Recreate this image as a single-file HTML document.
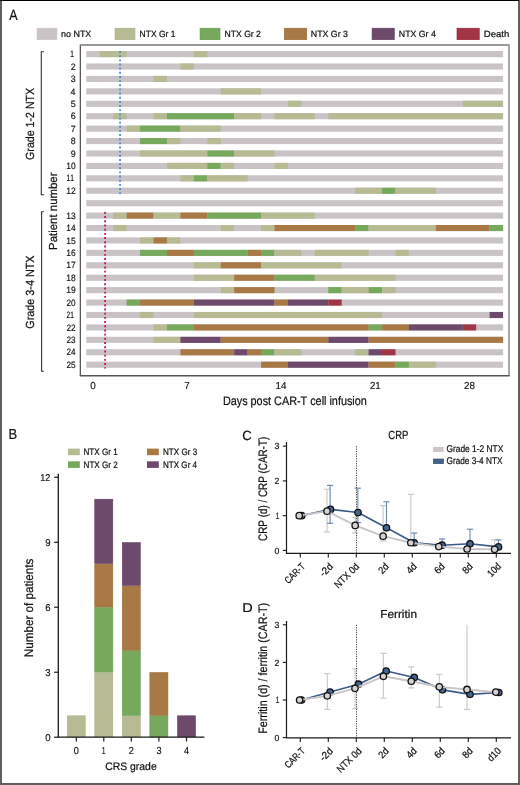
<!DOCTYPE html><html><head><meta charset="utf-8"><style>html,body{margin:0;padding:0;background:#fff;}svg{display:block;will-change:transform;}text{font-family:"Liberation Sans",sans-serif;font-kerning:none;fill:#111;stroke:#111;stroke-width:0.22px;} text.t{stroke-width:0.16px;}</style></head><body>
<svg width="520" height="785" viewBox="0 0 520 785" text-rendering="geometricPrecision">
<rect x="0" y="0" width="520" height="785" fill="#ffffff"/>
<text x="9.18" y="20.20" font-size="14.83" textLength="8.35" lengthAdjust="spacingAndGlyphs" fill="#1a1a1a">A</text>
<rect x="37.06" y="28.2" width="19.84" height="11.5" fill="#c9c3c6" stroke="#c9c3c6" stroke-width="0.6"/>
<text x="61.11" y="37.00" font-size="9.01" textLength="30.18" lengthAdjust="spacingAndGlyphs" fill="#1a1a1a">no NTX</text>
<rect x="115.06" y="28.2" width="19.94" height="11.5" fill="#b7bb93" stroke="#aab086" stroke-width="0.6"/>
<text x="139.60" y="37.00" font-size="9.01" textLength="35.81" lengthAdjust="spacingAndGlyphs" fill="#1a1a1a">NTX Gr 1</text>
<rect x="200.06" y="28.2" width="19.94" height="11.5" fill="#77a95d" stroke="#62994a" stroke-width="0.6"/>
<text x="224.59" y="37.00" font-size="9.01" textLength="36.34" lengthAdjust="spacingAndGlyphs" fill="#1a1a1a">NTX Gr 2</text>
<rect x="284.25" y="28.2" width="22.50" height="11.5" fill="#a87945" stroke="#9a6b38" stroke-width="0.6"/>
<text x="310.83" y="37.00" font-size="9.01" textLength="37.06" lengthAdjust="spacingAndGlyphs" fill="#1a1a1a">NTX Gr 3</text>
<rect x="372.1" y="28.2" width="22.15" height="11.5" fill="#6d4a6b" stroke="#5e3b5c" stroke-width="0.6"/>
<text x="398.83" y="37.00" font-size="9.01" textLength="36.92" lengthAdjust="spacingAndGlyphs" fill="#1a1a1a">NTX Gr 4</text>
<rect x="457.0" y="28.2" width="22.25" height="11.5" fill="#a23545" stroke="#931f35" stroke-width="0.6"/>
<text x="483.76" y="37.00" font-size="9.01" textLength="25.61" lengthAdjust="spacingAndGlyphs" fill="#1a1a1a">Death</text>
<g shape-rendering="auto">
<rect x="86.28" y="51.05" width="416.79" height="6.1" fill="#c9c3c6"/>
<rect x="86.28" y="63.47" width="416.79" height="6.1" fill="#c9c3c6"/>
<rect x="86.28" y="75.90" width="416.79" height="6.1" fill="#c9c3c6"/>
<rect x="86.28" y="88.32" width="416.79" height="6.1" fill="#c9c3c6"/>
<rect x="86.28" y="100.75" width="416.79" height="6.1" fill="#c9c3c6"/>
<rect x="86.28" y="113.17" width="416.79" height="6.1" fill="#c9c3c6"/>
<rect x="86.28" y="125.59" width="416.79" height="6.1" fill="#c9c3c6"/>
<rect x="86.28" y="138.02" width="416.79" height="6.1" fill="#c9c3c6"/>
<rect x="86.28" y="150.44" width="416.79" height="6.1" fill="#c9c3c6"/>
<rect x="86.28" y="162.87" width="416.79" height="6.1" fill="#c9c3c6"/>
<rect x="86.28" y="175.29" width="416.79" height="6.1" fill="#c9c3c6"/>
<rect x="86.28" y="187.71" width="416.79" height="6.1" fill="#c9c3c6"/>
<rect x="86.28" y="200.14" width="416.79" height="6.1" fill="#c9c3c6"/>
<rect x="86.28" y="212.56" width="416.79" height="6.1" fill="#c9c3c6"/>
<rect x="86.28" y="224.99" width="416.79" height="6.1" fill="#c9c3c6"/>
<rect x="86.28" y="237.41" width="416.79" height="6.1" fill="#c9c3c6"/>
<rect x="86.28" y="249.83" width="416.79" height="6.1" fill="#c9c3c6"/>
<rect x="86.28" y="262.26" width="416.79" height="6.1" fill="#c9c3c6"/>
<rect x="86.28" y="274.68" width="416.79" height="6.1" fill="#c9c3c6"/>
<rect x="86.28" y="287.11" width="416.79" height="6.1" fill="#c9c3c6"/>
<rect x="86.28" y="299.53" width="416.79" height="6.1" fill="#c9c3c6"/>
<rect x="86.28" y="311.95" width="416.79" height="6.1" fill="#c9c3c6"/>
<rect x="86.28" y="324.38" width="416.79" height="6.1" fill="#c9c3c6"/>
<rect x="86.28" y="336.80" width="416.79" height="6.1" fill="#c9c3c6"/>
<rect x="86.28" y="349.23" width="416.79" height="6.1" fill="#c9c3c6"/>
<rect x="86.28" y="361.65" width="416.79" height="6.1" fill="#c9c3c6"/>
<rect x="99.72" y="51.05" width="26.89" height="6.1" fill="#b7bb93"/>
<rect x="193.84" y="51.05" width="13.44" height="6.1" fill="#b7bb93"/>
<rect x="180.39" y="63.47" width="13.45" height="6.1" fill="#b7bb93"/>
<rect x="153.50" y="75.90" width="13.44" height="6.1" fill="#b7bb93"/>
<rect x="220.73" y="88.32" width="40.33" height="6.1" fill="#b7bb93"/>
<rect x="287.95" y="100.75" width="13.45" height="6.1" fill="#b7bb93"/>
<rect x="462.74" y="100.75" width="40.33" height="6.1" fill="#b7bb93"/>
<rect x="113.17" y="113.17" width="13.44" height="6.1" fill="#b7bb93"/>
<rect x="153.50" y="113.17" width="13.44" height="6.1" fill="#b7bb93"/>
<rect x="166.95" y="113.17" width="67.23" height="6.1" fill="#77a95d"/>
<rect x="234.17" y="113.17" width="26.89" height="6.1" fill="#b7bb93"/>
<rect x="274.51" y="113.17" width="40.33" height="6.1" fill="#b7bb93"/>
<rect x="328.29" y="113.17" width="174.78" height="6.1" fill="#b7bb93"/>
<rect x="126.61" y="125.59" width="13.45" height="6.1" fill="#b7bb93"/>
<rect x="140.06" y="125.59" width="40.33" height="6.1" fill="#77a95d"/>
<rect x="180.39" y="125.59" width="40.34" height="6.1" fill="#b7bb93"/>
<rect x="140.06" y="138.02" width="26.89" height="6.1" fill="#77a95d"/>
<rect x="166.95" y="138.02" width="13.44" height="6.1" fill="#b7bb93"/>
<rect x="207.28" y="138.02" width="13.45" height="6.1" fill="#b7bb93"/>
<rect x="140.06" y="150.44" width="67.22" height="6.1" fill="#b7bb93"/>
<rect x="207.28" y="150.44" width="26.89" height="6.1" fill="#77a95d"/>
<rect x="234.17" y="150.44" width="40.33" height="6.1" fill="#b7bb93"/>
<rect x="166.95" y="162.87" width="40.34" height="6.1" fill="#b7bb93"/>
<rect x="207.28" y="162.87" width="13.45" height="6.1" fill="#77a95d"/>
<rect x="220.73" y="162.87" width="13.44" height="6.1" fill="#b7bb93"/>
<rect x="274.51" y="162.87" width="13.44" height="6.1" fill="#b7bb93"/>
<rect x="180.39" y="175.29" width="13.45" height="6.1" fill="#b7bb93"/>
<rect x="193.84" y="175.29" width="13.44" height="6.1" fill="#77a95d"/>
<rect x="207.28" y="175.29" width="40.34" height="6.1" fill="#b7bb93"/>
<rect x="355.18" y="187.71" width="26.89" height="6.1" fill="#b7bb93"/>
<rect x="382.07" y="187.71" width="13.44" height="6.1" fill="#77a95d"/>
<rect x="395.51" y="187.71" width="40.34" height="6.1" fill="#b7bb93"/>
<rect x="113.17" y="212.56" width="13.44" height="6.1" fill="#b7bb93"/>
<rect x="126.61" y="212.56" width="26.89" height="6.1" fill="#a87945"/>
<rect x="153.50" y="212.56" width="26.89" height="6.1" fill="#b7bb93"/>
<rect x="180.39" y="212.56" width="26.89" height="6.1" fill="#a87945"/>
<rect x="207.28" y="212.56" width="53.78" height="6.1" fill="#77a95d"/>
<rect x="261.06" y="212.56" width="53.78" height="6.1" fill="#b7bb93"/>
<rect x="113.17" y="224.99" width="13.44" height="6.1" fill="#b7bb93"/>
<rect x="220.73" y="224.99" width="13.44" height="6.1" fill="#b7bb93"/>
<rect x="261.06" y="224.99" width="13.44" height="6.1" fill="#b7bb93"/>
<rect x="274.51" y="224.99" width="80.67" height="6.1" fill="#a87945"/>
<rect x="355.18" y="224.99" width="13.44" height="6.1" fill="#77a95d"/>
<rect x="368.62" y="224.99" width="67.23" height="6.1" fill="#b7bb93"/>
<rect x="435.85" y="224.99" width="53.78" height="6.1" fill="#a87945"/>
<rect x="489.63" y="224.99" width="13.44" height="6.1" fill="#77a95d"/>
<rect x="140.06" y="237.41" width="13.44" height="6.1" fill="#b7bb93"/>
<rect x="153.50" y="237.41" width="13.44" height="6.1" fill="#a87945"/>
<rect x="166.95" y="237.41" width="13.44" height="6.1" fill="#b7bb93"/>
<rect x="140.06" y="249.83" width="26.89" height="6.1" fill="#77a95d"/>
<rect x="166.95" y="249.83" width="26.89" height="6.1" fill="#a87945"/>
<rect x="193.84" y="249.83" width="53.78" height="6.1" fill="#77a95d"/>
<rect x="247.62" y="249.83" width="13.44" height="6.1" fill="#a87945"/>
<rect x="261.06" y="249.83" width="13.44" height="6.1" fill="#77a95d"/>
<rect x="274.51" y="249.83" width="26.89" height="6.1" fill="#b7bb93"/>
<rect x="314.84" y="249.83" width="53.78" height="6.1" fill="#b7bb93"/>
<rect x="395.51" y="249.83" width="13.44" height="6.1" fill="#b7bb93"/>
<rect x="193.84" y="262.26" width="26.89" height="6.1" fill="#b7bb93"/>
<rect x="220.73" y="262.26" width="40.33" height="6.1" fill="#a87945"/>
<rect x="261.06" y="262.26" width="80.67" height="6.1" fill="#b7bb93"/>
<rect x="193.84" y="274.68" width="40.34" height="6.1" fill="#b7bb93"/>
<rect x="234.17" y="274.68" width="40.33" height="6.1" fill="#a87945"/>
<rect x="274.51" y="274.68" width="40.33" height="6.1" fill="#77a95d"/>
<rect x="314.84" y="274.68" width="80.67" height="6.1" fill="#b7bb93"/>
<rect x="220.73" y="287.11" width="13.44" height="6.1" fill="#b7bb93"/>
<rect x="234.17" y="287.11" width="40.33" height="6.1" fill="#a87945"/>
<rect x="328.29" y="287.11" width="13.44" height="6.1" fill="#77a95d"/>
<rect x="341.73" y="287.11" width="26.89" height="6.1" fill="#b7bb93"/>
<rect x="368.62" y="287.11" width="13.44" height="6.1" fill="#77a95d"/>
<rect x="382.07" y="287.11" width="13.44" height="6.1" fill="#b7bb93"/>
<rect x="126.61" y="299.53" width="13.45" height="6.1" fill="#77a95d"/>
<rect x="140.06" y="299.53" width="53.78" height="6.1" fill="#a87945"/>
<rect x="193.84" y="299.53" width="80.67" height="6.1" fill="#6d4a6b"/>
<rect x="274.51" y="299.53" width="13.44" height="6.1" fill="#a87945"/>
<rect x="287.95" y="299.53" width="40.34" height="6.1" fill="#6d4a6b"/>
<rect x="328.29" y="299.53" width="13.44" height="6.1" fill="#a23545"/>
<rect x="140.06" y="311.95" width="13.44" height="6.1" fill="#b7bb93"/>
<rect x="193.84" y="311.95" width="188.23" height="6.1" fill="#b7bb93"/>
<rect x="489.63" y="311.95" width="13.44" height="6.1" fill="#6d4a6b"/>
<rect x="153.50" y="324.38" width="13.44" height="6.1" fill="#b7bb93"/>
<rect x="166.95" y="324.38" width="26.89" height="6.1" fill="#77a95d"/>
<rect x="193.84" y="324.38" width="174.78" height="6.1" fill="#a87945"/>
<rect x="368.62" y="324.38" width="13.44" height="6.1" fill="#77a95d"/>
<rect x="382.07" y="324.38" width="26.89" height="6.1" fill="#a87945"/>
<rect x="408.96" y="324.38" width="53.78" height="6.1" fill="#6d4a6b"/>
<rect x="462.74" y="324.38" width="13.44" height="6.1" fill="#a23545"/>
<rect x="153.50" y="336.80" width="26.89" height="6.1" fill="#b7bb93"/>
<rect x="180.39" y="336.80" width="40.34" height="6.1" fill="#6d4a6b"/>
<rect x="220.73" y="336.80" width="107.56" height="6.1" fill="#a87945"/>
<rect x="328.29" y="336.80" width="40.33" height="6.1" fill="#6d4a6b"/>
<rect x="368.62" y="336.80" width="134.45" height="6.1" fill="#a87945"/>
<rect x="180.39" y="349.23" width="53.78" height="6.1" fill="#a87945"/>
<rect x="234.17" y="349.23" width="13.44" height="6.1" fill="#6d4a6b"/>
<rect x="247.62" y="349.23" width="13.44" height="6.1" fill="#a87945"/>
<rect x="261.06" y="349.23" width="13.44" height="6.1" fill="#77a95d"/>
<rect x="274.51" y="349.23" width="26.89" height="6.1" fill="#b7bb93"/>
<rect x="355.18" y="349.23" width="13.44" height="6.1" fill="#b7bb93"/>
<rect x="368.62" y="349.23" width="13.44" height="6.1" fill="#6d4a6b"/>
<rect x="382.07" y="349.23" width="13.44" height="6.1" fill="#a23545"/>
<rect x="261.06" y="361.65" width="26.89" height="6.1" fill="#a87945"/>
<rect x="287.95" y="361.65" width="80.67" height="6.1" fill="#6d4a6b"/>
<rect x="368.62" y="361.65" width="26.89" height="6.1" fill="#a87945"/>
<rect x="395.51" y="361.65" width="13.44" height="6.1" fill="#77a95d"/>
<rect x="408.96" y="361.65" width="26.89" height="6.1" fill="#b7bb93"/>
</g>
<line x1="120.05" y1="51.1" x2="120.05" y2="194" stroke="#4a90d9" stroke-width="1.9" stroke-dasharray="1.9 2.25"/>
<line x1="105.1" y1="211.9" x2="105.1" y2="368.5" stroke="#c8186e" stroke-width="1.9" stroke-dasharray="1.9 2.3"/>
<path d="M80.3 376.0 V45.2" fill="none" stroke="#3a3a3a" stroke-width="1.1"/>
<path d="M79.8 45.0 H509.0 V376.0" fill="none" stroke="#7a7a7a" stroke-width="1.3"/>
<line x1="79.8" y1="375.8" x2="509.5" y2="375.8" stroke="#555" stroke-width="1.6"/>
<text class="t" x="70.26" y="57.25" font-size="9.16" textLength="3.67" lengthAdjust="spacingAndGlyphs" fill="#1a1a1a">1</text>
<text class="t" x="70.81" y="69.67" font-size="9.16" textLength="4.94" lengthAdjust="spacingAndGlyphs" fill="#1a1a1a">2</text>
<text class="t" x="70.75" y="82.10" font-size="9.16" textLength="4.94" lengthAdjust="spacingAndGlyphs" fill="#1a1a1a">3</text>
<text class="t" x="70.62" y="94.52" font-size="9.16" textLength="4.94" lengthAdjust="spacingAndGlyphs" fill="#1a1a1a">4</text>
<text class="t" x="70.73" y="106.95" font-size="9.16" textLength="4.94" lengthAdjust="spacingAndGlyphs" fill="#1a1a1a">5</text>
<text class="t" x="70.75" y="119.37" font-size="9.16" textLength="4.94" lengthAdjust="spacingAndGlyphs" fill="#1a1a1a">6</text>
<text class="t" x="70.81" y="131.79" font-size="9.16" textLength="4.94" lengthAdjust="spacingAndGlyphs" fill="#1a1a1a">7</text>
<text class="t" x="70.75" y="144.22" font-size="9.16" textLength="4.94" lengthAdjust="spacingAndGlyphs" fill="#1a1a1a">8</text>
<text class="t" x="70.78" y="156.64" font-size="9.16" textLength="4.94" lengthAdjust="spacingAndGlyphs" fill="#1a1a1a">9</text>
<text class="t" x="66.26" y="169.07" font-size="9.16" textLength="9.37" lengthAdjust="spacingAndGlyphs" fill="#1a1a1a">10</text>
<text class="t" x="66.38" y="181.49" font-size="9.16" textLength="7.55" lengthAdjust="spacingAndGlyphs" fill="#1a1a1a">11</text>
<text class="t" x="66.25" y="193.91" font-size="9.16" textLength="9.48" lengthAdjust="spacingAndGlyphs" fill="#1a1a1a">12</text>
<text class="t" x="66.26" y="218.76" font-size="9.16" textLength="9.42" lengthAdjust="spacingAndGlyphs" fill="#1a1a1a">13</text>
<text class="t" x="66.26" y="231.19" font-size="9.16" textLength="9.28" lengthAdjust="spacingAndGlyphs" fill="#1a1a1a">14</text>
<text class="t" x="66.26" y="243.61" font-size="9.16" textLength="9.40" lengthAdjust="spacingAndGlyphs" fill="#1a1a1a">15</text>
<text class="t" x="66.26" y="256.03" font-size="9.16" textLength="9.42" lengthAdjust="spacingAndGlyphs" fill="#1a1a1a">16</text>
<text class="t" x="66.25" y="268.46" font-size="9.16" textLength="9.48" lengthAdjust="spacingAndGlyphs" fill="#1a1a1a">17</text>
<text class="t" x="66.26" y="280.88" font-size="9.16" textLength="9.41" lengthAdjust="spacingAndGlyphs" fill="#1a1a1a">18</text>
<text class="t" x="66.25" y="293.31" font-size="9.16" textLength="9.45" lengthAdjust="spacingAndGlyphs" fill="#1a1a1a">19</text>
<text class="t" x="66.49" y="305.73" font-size="9.16" textLength="9.13" lengthAdjust="spacingAndGlyphs" fill="#1a1a1a">20</text>
<text class="t" x="66.57" y="318.15" font-size="9.16" textLength="7.36" lengthAdjust="spacingAndGlyphs" fill="#1a1a1a">21</text>
<text class="t" x="66.48" y="330.58" font-size="9.16" textLength="9.24" lengthAdjust="spacingAndGlyphs" fill="#1a1a1a">22</text>
<text class="t" x="66.49" y="343.00" font-size="9.16" textLength="9.18" lengthAdjust="spacingAndGlyphs" fill="#1a1a1a">23</text>
<text class="t" x="66.49" y="355.43" font-size="9.16" textLength="9.05" lengthAdjust="spacingAndGlyphs" fill="#1a1a1a">24</text>
<text class="t" x="66.49" y="367.85" font-size="9.16" textLength="9.16" lengthAdjust="spacingAndGlyphs" fill="#1a1a1a">25</text>
<path d="M44.1 51.8 H41.3 V194.7 H44.1" fill="none" stroke="#333" stroke-width="1.1"/>
<path d="M43.8 211.8 H41.6 V371.3 H43.8" fill="none" stroke="#333" stroke-width="1.1"/>
<text transform="translate(34.00,159.40) rotate(-90)" x="-0.54" y="0" font-size="11.77" textLength="72.16" lengthAdjust="spacingAndGlyphs" fill="#1a1a1a">Grade 1-2 NTX</text>
<text transform="translate(34.00,328.10) rotate(-90)" x="-0.54" y="0" font-size="11.77" textLength="73.07" lengthAdjust="spacingAndGlyphs" fill="#1a1a1a">Grade 3-4 NTX</text>
<text transform="translate(57.30,249.00) rotate(-90)" x="-0.94" y="0" font-size="11.63" textLength="77.43" lengthAdjust="spacingAndGlyphs" fill="#1a1a1a">Patient number</text>
<text class="t" x="90.26" y="388.80" font-size="10.17" textLength="5.49" lengthAdjust="spacingAndGlyphs" fill="#1a1a1a">0</text>
<text class="t" x="184.37" y="388.80" font-size="10.17" textLength="5.49" lengthAdjust="spacingAndGlyphs" fill="#1a1a1a">7</text>
<text class="t" x="275.57" y="388.80" font-size="10.17" textLength="10.86" lengthAdjust="spacingAndGlyphs" fill="#1a1a1a">14</text>
<text class="t" x="369.91" y="388.80" font-size="10.17" textLength="10.86" lengthAdjust="spacingAndGlyphs" fill="#1a1a1a">21</text>
<text class="t" x="463.99" y="388.80" font-size="10.17" textLength="10.86" lengthAdjust="spacingAndGlyphs" fill="#1a1a1a">28</text>
<text x="222.91" y="405.40" font-size="12.35" textLength="143.89" lengthAdjust="spacingAndGlyphs" fill="#1a1a1a">Days post CAR-T cell infusion</text>
<text x="8.54" y="439.20" font-size="14.53" textLength="8.65" lengthAdjust="spacingAndGlyphs" fill="#1a1a1a">B</text>
<rect x="68.0" y="448.6" width="11.8" height="6.6" fill="#b7bb93"/>
<text x="83.54" y="455.00" font-size="9.30" textLength="34.16" lengthAdjust="spacingAndGlyphs" fill="#1a1a1a">NTX Gr 1</text>
<rect x="68.0" y="461.3" width="11.8" height="6.6" fill="#77a95d"/>
<text x="83.54" y="467.70" font-size="9.30" textLength="34.17" lengthAdjust="spacingAndGlyphs" fill="#1a1a1a">NTX Gr 2</text>
<rect x="147.0" y="448.6" width="11.8" height="6.6" fill="#a87945"/>
<text x="163.04" y="455.00" font-size="9.30" textLength="34.12" lengthAdjust="spacingAndGlyphs" fill="#1a1a1a">NTX Gr 3</text>
<rect x="147.0" y="461.3" width="11.8" height="6.6" fill="#6d4a6b"/>
<text x="163.04" y="467.70" font-size="9.30" textLength="34.00" lengthAdjust="spacingAndGlyphs" fill="#1a1a1a">NTX Gr 4</text>
<rect x="67.25" y="715.79" width="18.1" height="21.16" fill="#b7bb93" stroke="#aab086" stroke-width="0.5"/>
<rect x="94.75" y="672.47" width="18.1" height="64.48" fill="#b7bb93" stroke="#aab086" stroke-width="0.5"/>
<rect x="94.75" y="607.49" width="18.1" height="64.48" fill="#77a95d" stroke="#62994a" stroke-width="0.5"/>
<rect x="94.75" y="564.17" width="18.1" height="42.82" fill="#a87945" stroke="#9a6b38" stroke-width="0.5"/>
<rect x="94.75" y="499.19" width="18.1" height="64.48" fill="#6d4a6b" stroke="#5e3b5c" stroke-width="0.5"/>
<rect x="122.25" y="715.79" width="18.1" height="21.16" fill="#b7bb93" stroke="#aab086" stroke-width="0.5"/>
<rect x="122.25" y="650.81" width="18.1" height="64.48" fill="#77a95d" stroke="#62994a" stroke-width="0.5"/>
<rect x="122.25" y="585.83" width="18.1" height="64.48" fill="#a87945" stroke="#9a6b38" stroke-width="0.5"/>
<rect x="122.25" y="542.51" width="18.1" height="42.82" fill="#6d4a6b" stroke="#5e3b5c" stroke-width="0.5"/>
<rect x="149.85" y="715.79" width="18.1" height="21.16" fill="#77a95d" stroke="#62994a" stroke-width="0.5"/>
<rect x="149.85" y="672.47" width="18.1" height="42.82" fill="#a87945" stroke="#9a6b38" stroke-width="0.5"/>
<rect x="177.45" y="715.79" width="18.1" height="21.16" fill="#6d4a6b" stroke="#5e3b5c" stroke-width="0.5"/>
<path d="M58.3 473.8 V737.2 H204.4" fill="none" stroke="#1a1a1a" stroke-width="1.3"/>
<line x1="54.1" y1="737.20" x2="58.3" y2="737.20" stroke="#1a1a1a" stroke-width="1.2"/>
<text class="t" x="45.24" y="740.60" font-size="9.88" textLength="5.33" lengthAdjust="spacingAndGlyphs" fill="#1a1a1a">0</text>
<line x1="54.1" y1="672.22" x2="58.3" y2="672.22" stroke="#1a1a1a" stroke-width="1.2"/>
<text class="t" x="45.29" y="675.62" font-size="9.88" textLength="5.33" lengthAdjust="spacingAndGlyphs" fill="#1a1a1a">3</text>
<line x1="54.1" y1="607.24" x2="58.3" y2="607.24" stroke="#1a1a1a" stroke-width="1.2"/>
<text class="t" x="45.29" y="610.64" font-size="9.88" textLength="5.33" lengthAdjust="spacingAndGlyphs" fill="#1a1a1a">6</text>
<line x1="54.1" y1="542.26" x2="58.3" y2="542.26" stroke="#1a1a1a" stroke-width="1.2"/>
<text class="t" x="45.32" y="545.66" font-size="9.88" textLength="5.33" lengthAdjust="spacingAndGlyphs" fill="#1a1a1a">9</text>
<line x1="54.1" y1="477.28" x2="58.3" y2="477.28" stroke="#1a1a1a" stroke-width="1.2"/>
<text class="t" x="40.30" y="480.68" font-size="9.88" textLength="10.15" lengthAdjust="spacingAndGlyphs" fill="#1a1a1a">12</text>
<line x1="76.3" y1="737.2" x2="76.3" y2="741.5" stroke="#1a1a1a" stroke-width="1.2"/>
<text class="t" x="73.75" y="753.90" font-size="10.17" textLength="5.10" lengthAdjust="spacingAndGlyphs" fill="#1a1a1a">0</text>
<line x1="103.8" y1="737.2" x2="103.8" y2="741.5" stroke="#1a1a1a" stroke-width="1.2"/>
<text class="t" x="101.82" y="753.90" font-size="10.17" textLength="3.78" lengthAdjust="spacingAndGlyphs" fill="#1a1a1a">1</text>
<line x1="131.3" y1="737.2" x2="131.3" y2="741.5" stroke="#1a1a1a" stroke-width="1.2"/>
<text class="t" x="128.75" y="753.90" font-size="10.17" textLength="5.10" lengthAdjust="spacingAndGlyphs" fill="#1a1a1a">2</text>
<line x1="158.9" y1="737.2" x2="158.9" y2="741.5" stroke="#1a1a1a" stroke-width="1.2"/>
<text class="t" x="156.38" y="753.90" font-size="10.17" textLength="5.10" lengthAdjust="spacingAndGlyphs" fill="#1a1a1a">3</text>
<line x1="186.5" y1="737.2" x2="186.5" y2="741.5" stroke="#1a1a1a" stroke-width="1.2"/>
<text class="t" x="183.98" y="753.90" font-size="10.17" textLength="5.10" lengthAdjust="spacingAndGlyphs" fill="#1a1a1a">4</text>
<text transform="translate(32.50,656.20) rotate(-90)" x="-0.96" y="0" font-size="12.35" textLength="98.58" lengthAdjust="spacingAndGlyphs" fill="#1a1a1a">Number of patients</text>
<text x="105.27" y="770.30" font-size="10.90" textLength="51.39" lengthAdjust="spacingAndGlyphs" fill="#1a1a1a">CRS grade</text>
<text x="242.23" y="439.60" font-size="13.37" textLength="9.46" lengthAdjust="spacingAndGlyphs" fill="#1a1a1a">C</text>
<text x="388.32" y="439.10" font-size="11.77" textLength="20.08" lengthAdjust="spacingAndGlyphs" fill="#1a1a1a">CRP</text>
<path d="M286.5 441.90 V553.30 H511" fill="none" stroke="#1a1a1a" stroke-width="1.2"/>
<line x1="282.8" y1="550.40" x2="286.5" y2="550.40" stroke="#1a1a1a" stroke-width="1.1"/>
<text class="t" x="274.48" y="553.50" font-size="9.01" textLength="4.86" lengthAdjust="spacingAndGlyphs" fill="#1a1a1a">0</text>
<line x1="282.8" y1="515.65" x2="286.5" y2="515.65" stroke="#1a1a1a" stroke-width="1.1"/>
<text class="t" x="275.71" y="518.75" font-size="9.01" textLength="3.61" lengthAdjust="spacingAndGlyphs" fill="#1a1a1a">1</text>
<line x1="282.8" y1="480.90" x2="286.5" y2="480.90" stroke="#1a1a1a" stroke-width="1.1"/>
<text class="t" x="274.58" y="484.00" font-size="9.01" textLength="4.86" lengthAdjust="spacingAndGlyphs" fill="#1a1a1a">2</text>
<line x1="282.8" y1="446.15" x2="286.5" y2="446.15" stroke="#1a1a1a" stroke-width="1.1"/>
<text class="t" x="274.52" y="449.25" font-size="9.01" textLength="4.86" lengthAdjust="spacingAndGlyphs" fill="#1a1a1a">3</text>
<line x1="300.30" y1="553.30" x2="300.30" y2="557.60" stroke="#1a1a1a" stroke-width="1.1"/>
<line x1="328.30" y1="553.30" x2="328.30" y2="557.60" stroke="#1a1a1a" stroke-width="1.1"/>
<line x1="356.30" y1="553.30" x2="356.30" y2="557.60" stroke="#1a1a1a" stroke-width="1.1"/>
<line x1="384.30" y1="553.30" x2="384.30" y2="557.60" stroke="#1a1a1a" stroke-width="1.1"/>
<line x1="412.30" y1="553.30" x2="412.30" y2="557.60" stroke="#1a1a1a" stroke-width="1.1"/>
<line x1="440.30" y1="553.30" x2="440.30" y2="557.60" stroke="#1a1a1a" stroke-width="1.1"/>
<line x1="468.30" y1="553.30" x2="468.30" y2="557.60" stroke="#1a1a1a" stroke-width="1.1"/>
<line x1="496.30" y1="553.30" x2="496.30" y2="557.60" stroke="#1a1a1a" stroke-width="1.1"/>
<text transform="translate(305.60,567.10) rotate(-45)" x="-24.25" y="0" font-size="9.80" textLength="24.25" lengthAdjust="spacingAndGlyphs" fill="#1a1a1a">CAR-T</text>
<text transform="translate(333.60,567.10) rotate(-45)" x="-14.45" y="0" font-size="10.00" textLength="14.45" lengthAdjust="spacingAndGlyphs" fill="#1a1a1a">-2d</text>
<text transform="translate(359.80,567.10) rotate(-45)" x="-30.51" y="0" font-size="10.00" textLength="30.51" lengthAdjust="spacingAndGlyphs" fill="#1a1a1a">NTX 0d</text>
<text transform="translate(389.60,567.10) rotate(-45)" x="-10.57" y="0" font-size="10.00" textLength="10.57" lengthAdjust="spacingAndGlyphs" fill="#1a1a1a">2d</text>
<text transform="translate(417.60,567.10) rotate(-45)" x="-10.57" y="0" font-size="10.00" textLength="10.57" lengthAdjust="spacingAndGlyphs" fill="#1a1a1a">4d</text>
<text transform="translate(445.60,567.10) rotate(-45)" x="-10.57" y="0" font-size="10.00" textLength="10.57" lengthAdjust="spacingAndGlyphs" fill="#1a1a1a">6d</text>
<text transform="translate(473.60,567.10) rotate(-45)" x="-10.57" y="0" font-size="10.00" textLength="10.57" lengthAdjust="spacingAndGlyphs" fill="#1a1a1a">8d</text>
<text transform="translate(501.60,567.10) rotate(-45)" x="-14.68" y="0" font-size="10.00" textLength="14.68" lengthAdjust="spacingAndGlyphs" fill="#1a1a1a">10d</text>
<text transform="translate(267.30,540.40) rotate(-90)" x="-0.50" y="0" font-size="12.21" textLength="104.11" lengthAdjust="spacingAndGlyphs" fill="#1a1a1a">CRP (d) / CRP (CAR-T)</text>
<line x1="327.00" y1="489.24" x2="327.00" y2="531.98" stroke="#cdc8cb" stroke-width="1.15"/><line x1="323.90" y1="489.24" x2="330.10" y2="489.24" stroke="#cdc8cb" stroke-width="1.2"/><line x1="323.90" y1="531.98" x2="330.10" y2="531.98" stroke="#cdc8cb" stroke-width="1.2"/>
<line x1="355.20" y1="517.39" x2="355.20" y2="533.02" stroke="#cdc8cb" stroke-width="1.15"/><line x1="352.10" y1="517.39" x2="358.30" y2="517.39" stroke="#cdc8cb" stroke-width="1.2"/><line x1="352.10" y1="533.02" x2="358.30" y2="533.02" stroke="#cdc8cb" stroke-width="1.2"/>
<line x1="383.10" y1="505.57" x2="383.10" y2="541.02" stroke="#cdc8cb" stroke-width="1.15"/><line x1="380.00" y1="505.57" x2="386.20" y2="505.57" stroke="#cdc8cb" stroke-width="1.2"/><line x1="380.00" y1="541.02" x2="386.20" y2="541.02" stroke="#cdc8cb" stroke-width="1.2"/>
<line x1="410.80" y1="494.45" x2="410.80" y2="542.75" stroke="#cdc8cb" stroke-width="1.15"/><line x1="407.70" y1="494.45" x2="413.90" y2="494.45" stroke="#cdc8cb" stroke-width="1.2"/>
<line x1="494.60" y1="539.63" x2="494.60" y2="549.36" stroke="#cdc8cb" stroke-width="1.15"/><line x1="491.50" y1="539.63" x2="497.70" y2="539.63" stroke="#cdc8cb" stroke-width="1.2"/>
<line x1="330.10" y1="485.42" x2="330.10" y2="523.29" stroke="#6f8db4" stroke-width="1.15"/><line x1="327.00" y1="485.42" x2="333.20" y2="485.42" stroke="#6f8db4" stroke-width="1.2"/><line x1="327.00" y1="523.29" x2="333.20" y2="523.29" stroke="#6f8db4" stroke-width="1.2"/>
<line x1="357.80" y1="488.20" x2="357.80" y2="522.60" stroke="#6f8db4" stroke-width="1.15"/><line x1="354.70" y1="488.20" x2="360.90" y2="488.20" stroke="#6f8db4" stroke-width="1.2"/><line x1="354.70" y1="522.60" x2="360.90" y2="522.60" stroke="#6f8db4" stroke-width="1.2"/>
<line x1="386.50" y1="501.75" x2="386.50" y2="527.81" stroke="#6f8db4" stroke-width="1.15"/><line x1="383.40" y1="501.75" x2="389.60" y2="501.75" stroke="#6f8db4" stroke-width="1.2"/>
<line x1="414.20" y1="533.02" x2="414.20" y2="542.75" stroke="#6f8db4" stroke-width="1.15"/><line x1="411.10" y1="533.02" x2="417.30" y2="533.02" stroke="#6f8db4" stroke-width="1.2"/>
<line x1="442.10" y1="538.93" x2="442.10" y2="545.19" stroke="#6f8db4" stroke-width="1.15"/><line x1="439.00" y1="538.93" x2="445.20" y2="538.93" stroke="#6f8db4" stroke-width="1.2"/>
<line x1="470.00" y1="529.20" x2="470.00" y2="543.80" stroke="#6f8db4" stroke-width="1.15"/><line x1="466.90" y1="529.20" x2="473.10" y2="529.20" stroke="#6f8db4" stroke-width="1.2"/>
<line x1="498.50" y1="539.98" x2="498.50" y2="546.92" stroke="#6f8db4" stroke-width="1.15"/><line x1="495.40" y1="539.98" x2="501.60" y2="539.98" stroke="#6f8db4" stroke-width="1.2"/>
<line x1="356.5" y1="446.15" x2="356.5" y2="553.30" stroke="#333" stroke-width="0.9" stroke-dasharray="1.2 1.2"/>
<path d="M301.70 515.65 L330.50 509.39 L358.00 512.52 L386.50 527.81 L414.20 542.75 L442.10 545.19 L470.00 543.80 L498.50 546.92" fill="none" stroke="#3b5a86" stroke-width="1.6" stroke-linejoin="round"/>
<circle cx="301.70" cy="515.65" r="3.2" fill="#45648f" stroke="#111" stroke-width="1.3"/>
<circle cx="330.50" cy="509.39" r="3.2" fill="#45648f" stroke="#111" stroke-width="1.3"/>
<circle cx="358.00" cy="512.52" r="3.2" fill="#45648f" stroke="#111" stroke-width="1.3"/>
<circle cx="386.50" cy="527.81" r="3.2" fill="#45648f" stroke="#111" stroke-width="1.3"/>
<circle cx="414.20" cy="542.75" r="3.2" fill="#45648f" stroke="#111" stroke-width="1.3"/>
<circle cx="442.10" cy="545.19" r="3.2" fill="#45648f" stroke="#111" stroke-width="1.3"/>
<circle cx="470.00" cy="543.80" r="3.2" fill="#45648f" stroke="#111" stroke-width="1.3"/>
<circle cx="498.50" cy="546.92" r="3.2" fill="#45648f" stroke="#111" stroke-width="1.3"/>
<path d="M299.20 515.65 L327.00 511.13 L355.20 525.38 L383.10 536.15 L410.80 542.75 L438.80 546.58 L467.10 549.01 L494.60 549.36" fill="none" stroke="#c9c4c6" stroke-width="1.9" stroke-linejoin="round"/>
<circle cx="299.20" cy="515.65" r="3.2" fill="#d6d2d3" stroke="#111" stroke-width="1.3"/>
<circle cx="327.00" cy="511.13" r="3.2" fill="#d6d2d3" stroke="#111" stroke-width="1.3"/>
<circle cx="355.20" cy="525.38" r="3.2" fill="#d6d2d3" stroke="#111" stroke-width="1.3"/>
<circle cx="383.10" cy="536.15" r="3.2" fill="#d6d2d3" stroke="#111" stroke-width="1.3"/>
<circle cx="410.80" cy="542.75" r="3.2" fill="#d6d2d3" stroke="#111" stroke-width="1.3"/>
<circle cx="438.80" cy="546.58" r="3.2" fill="#d6d2d3" stroke="#111" stroke-width="1.3"/>
<circle cx="467.10" cy="549.01" r="3.2" fill="#d6d2d3" stroke="#111" stroke-width="1.3"/>
<circle cx="494.60" cy="549.36" r="3.2" fill="#d6d2d3" stroke="#111" stroke-width="1.3"/>
<rect x="433.1" y="446.9" width="10.6" height="5.1" fill="#cdc7ca"/>
<rect x="433.4" y="459.0" width="10.0" height="4.7" fill="#42628e" stroke="#2f4a72" stroke-width="0.6"/>
<text x="446.48" y="452.10" font-size="9.74" textLength="56.80" lengthAdjust="spacingAndGlyphs" fill="#1a1a1a">Grade 1-2 NTX</text>
<text x="446.48" y="463.70" font-size="9.74" textLength="55.99" lengthAdjust="spacingAndGlyphs" fill="#1a1a1a">Grade 3-4 NTX</text>
<text x="242.31" y="611.90" font-size="12.79" textLength="10.49" lengthAdjust="spacingAndGlyphs" fill="#1a1a1a">D</text>
<text x="380.23" y="617.80" font-size="11.48" textLength="36.74" lengthAdjust="spacingAndGlyphs" fill="#1a1a1a">Ferritin</text>
<path d="M286.5 621.00 V737.80 H511" fill="none" stroke="#1a1a1a" stroke-width="1.2"/>
<line x1="282.8" y1="737.60" x2="286.5" y2="737.60" stroke="#1a1a1a" stroke-width="1.1"/>
<text class="t" x="274.48" y="740.70" font-size="9.01" textLength="4.86" lengthAdjust="spacingAndGlyphs" fill="#1a1a1a">0</text>
<line x1="282.8" y1="700.00" x2="286.5" y2="700.00" stroke="#1a1a1a" stroke-width="1.1"/>
<text class="t" x="275.71" y="703.10" font-size="9.01" textLength="3.61" lengthAdjust="spacingAndGlyphs" fill="#1a1a1a">1</text>
<line x1="282.8" y1="662.40" x2="286.5" y2="662.40" stroke="#1a1a1a" stroke-width="1.1"/>
<text class="t" x="274.58" y="665.50" font-size="9.01" textLength="4.86" lengthAdjust="spacingAndGlyphs" fill="#1a1a1a">2</text>
<line x1="282.8" y1="624.80" x2="286.5" y2="624.80" stroke="#1a1a1a" stroke-width="1.1"/>
<text class="t" x="274.52" y="627.90" font-size="9.01" textLength="4.86" lengthAdjust="spacingAndGlyphs" fill="#1a1a1a">3</text>
<line x1="300.30" y1="737.80" x2="300.30" y2="742.10" stroke="#1a1a1a" stroke-width="1.1"/>
<line x1="328.30" y1="737.80" x2="328.30" y2="742.10" stroke="#1a1a1a" stroke-width="1.1"/>
<line x1="356.30" y1="737.80" x2="356.30" y2="742.10" stroke="#1a1a1a" stroke-width="1.1"/>
<line x1="384.30" y1="737.80" x2="384.30" y2="742.10" stroke="#1a1a1a" stroke-width="1.1"/>
<line x1="412.30" y1="737.80" x2="412.30" y2="742.10" stroke="#1a1a1a" stroke-width="1.1"/>
<line x1="440.30" y1="737.80" x2="440.30" y2="742.10" stroke="#1a1a1a" stroke-width="1.1"/>
<line x1="468.30" y1="737.80" x2="468.30" y2="742.10" stroke="#1a1a1a" stroke-width="1.1"/>
<line x1="496.30" y1="737.80" x2="496.30" y2="742.10" stroke="#1a1a1a" stroke-width="1.1"/>
<text transform="translate(305.60,751.60) rotate(-45)" x="-24.25" y="0" font-size="9.80" textLength="24.25" lengthAdjust="spacingAndGlyphs" fill="#1a1a1a">CAR-T</text>
<text transform="translate(333.60,751.60) rotate(-45)" x="-14.45" y="0" font-size="10.00" textLength="14.45" lengthAdjust="spacingAndGlyphs" fill="#1a1a1a">-2d</text>
<text transform="translate(362.20,751.60) rotate(-45)" x="-30.51" y="0" font-size="10.00" textLength="30.51" lengthAdjust="spacingAndGlyphs" fill="#1a1a1a">NTX 0d</text>
<text transform="translate(389.60,751.60) rotate(-45)" x="-10.57" y="0" font-size="10.00" textLength="10.57" lengthAdjust="spacingAndGlyphs" fill="#1a1a1a">2d</text>
<text transform="translate(417.60,751.60) rotate(-45)" x="-10.57" y="0" font-size="10.00" textLength="10.57" lengthAdjust="spacingAndGlyphs" fill="#1a1a1a">4d</text>
<text transform="translate(445.60,751.60) rotate(-45)" x="-10.57" y="0" font-size="10.00" textLength="10.57" lengthAdjust="spacingAndGlyphs" fill="#1a1a1a">6d</text>
<text transform="translate(473.60,751.60) rotate(-45)" x="-10.57" y="0" font-size="10.00" textLength="10.57" lengthAdjust="spacingAndGlyphs" fill="#1a1a1a">8d</text>
<text transform="translate(501.60,751.60) rotate(-45)" x="-14.68" y="0" font-size="10.00" textLength="14.68" lengthAdjust="spacingAndGlyphs" fill="#1a1a1a">d10</text>
<text transform="translate(267.30,732.80) rotate(-90)" x="-0.88" y="0" font-size="12.21" textLength="130.74" lengthAdjust="spacingAndGlyphs" fill="#1a1a1a">Ferritin (d) / ferritin (CAR-T)</text>
<line x1="327.30" y1="673.68" x2="327.30" y2="709.40" stroke="#cdc8cb" stroke-width="1.15"/><line x1="324.20" y1="673.68" x2="330.40" y2="673.68" stroke="#cdc8cb" stroke-width="1.2"/><line x1="324.20" y1="709.40" x2="330.40" y2="709.40" stroke="#cdc8cb" stroke-width="1.2"/>
<line x1="355.00" y1="668.79" x2="355.00" y2="708.65" stroke="#cdc8cb" stroke-width="1.15"/><line x1="351.90" y1="668.79" x2="358.10" y2="668.79" stroke="#cdc8cb" stroke-width="1.2"/><line x1="351.90" y1="708.65" x2="358.10" y2="708.65" stroke="#cdc8cb" stroke-width="1.2"/>
<line x1="383.40" y1="653.38" x2="383.40" y2="698.12" stroke="#cdc8cb" stroke-width="1.15"/><line x1="380.30" y1="653.38" x2="386.50" y2="653.38" stroke="#cdc8cb" stroke-width="1.2"/><line x1="380.30" y1="698.12" x2="386.50" y2="698.12" stroke="#cdc8cb" stroke-width="1.2"/>
<line x1="411.30" y1="666.91" x2="411.30" y2="687.97" stroke="#cdc8cb" stroke-width="1.15"/><line x1="408.20" y1="666.91" x2="414.40" y2="666.91" stroke="#cdc8cb" stroke-width="1.2"/><line x1="408.20" y1="687.97" x2="414.40" y2="687.97" stroke="#cdc8cb" stroke-width="1.2"/>
<line x1="439.30" y1="674.43" x2="439.30" y2="707.14" stroke="#cdc8cb" stroke-width="1.15"/><line x1="436.20" y1="674.43" x2="442.40" y2="674.43" stroke="#cdc8cb" stroke-width="1.2"/><line x1="436.20" y1="707.14" x2="442.40" y2="707.14" stroke="#cdc8cb" stroke-width="1.2"/>
<line x1="467.00" y1="624.80" x2="467.00" y2="709.40" stroke="#cdc8cb" stroke-width="1.15"/><line x1="463.90" y1="709.40" x2="470.10" y2="709.40" stroke="#cdc8cb" stroke-width="1.2"/>
<line x1="356.5" y1="624.80" x2="356.5" y2="737.80" stroke="#333" stroke-width="0.9" stroke-dasharray="1.2 1.2"/>
<path d="M301.50 700.00 L330.10 692.10 L358.50 684.21 L386.20 671.05 L414.30 677.44 L442.50 689.85 L470.00 694.36 L498.80 692.48" fill="none" stroke="#3b5a86" stroke-width="1.6" stroke-linejoin="round"/>
<circle cx="301.50" cy="700.00" r="3.2" fill="#45648f" stroke="#111" stroke-width="1.3"/>
<circle cx="330.10" cy="692.10" r="3.2" fill="#45648f" stroke="#111" stroke-width="1.3"/>
<circle cx="358.50" cy="684.21" r="3.2" fill="#45648f" stroke="#111" stroke-width="1.3"/>
<circle cx="386.20" cy="671.05" r="3.2" fill="#45648f" stroke="#111" stroke-width="1.3"/>
<circle cx="414.30" cy="677.44" r="3.2" fill="#45648f" stroke="#111" stroke-width="1.3"/>
<circle cx="442.50" cy="689.85" r="3.2" fill="#45648f" stroke="#111" stroke-width="1.3"/>
<circle cx="470.00" cy="694.36" r="3.2" fill="#45648f" stroke="#111" stroke-width="1.3"/>
<circle cx="498.80" cy="692.48" r="3.2" fill="#45648f" stroke="#111" stroke-width="1.3"/>
<path d="M299.60 700.00 L327.30 695.86 L355.00 688.34 L383.40 676.31 L411.30 681.20 L439.30 686.84 L467.00 689.47 L495.80 692.10" fill="none" stroke="#c9c4c6" stroke-width="1.9" stroke-linejoin="round"/>
<circle cx="299.60" cy="700.00" r="3.2" fill="#d6d2d3" stroke="#111" stroke-width="1.3"/>
<circle cx="327.30" cy="695.86" r="3.2" fill="#d6d2d3" stroke="#111" stroke-width="1.3"/>
<circle cx="355.00" cy="688.34" r="3.2" fill="#d6d2d3" stroke="#111" stroke-width="1.3"/>
<circle cx="383.40" cy="676.31" r="3.2" fill="#d6d2d3" stroke="#111" stroke-width="1.3"/>
<circle cx="411.30" cy="681.20" r="3.2" fill="#d6d2d3" stroke="#111" stroke-width="1.3"/>
<circle cx="439.30" cy="686.84" r="3.2" fill="#d6d2d3" stroke="#111" stroke-width="1.3"/>
<circle cx="467.00" cy="689.47" r="3.2" fill="#d6d2d3" stroke="#111" stroke-width="1.3"/>
<circle cx="495.80" cy="692.10" r="3.2" fill="#d6d2d3" stroke="#111" stroke-width="1.3"/>
<rect x="0" y="0" width="520" height="1" fill="#000"/>
<rect x="0" y="0" width="2" height="785" fill="#5f5f5f"/>
<rect x="518" y="0" width="2" height="785" fill="#5f5f5f"/>
<rect x="0" y="783" width="520" height="2" fill="#5f5f5f"/>
<rect x="0" y="0" width="519" height="1" fill="#000"/>
</svg></body></html>
